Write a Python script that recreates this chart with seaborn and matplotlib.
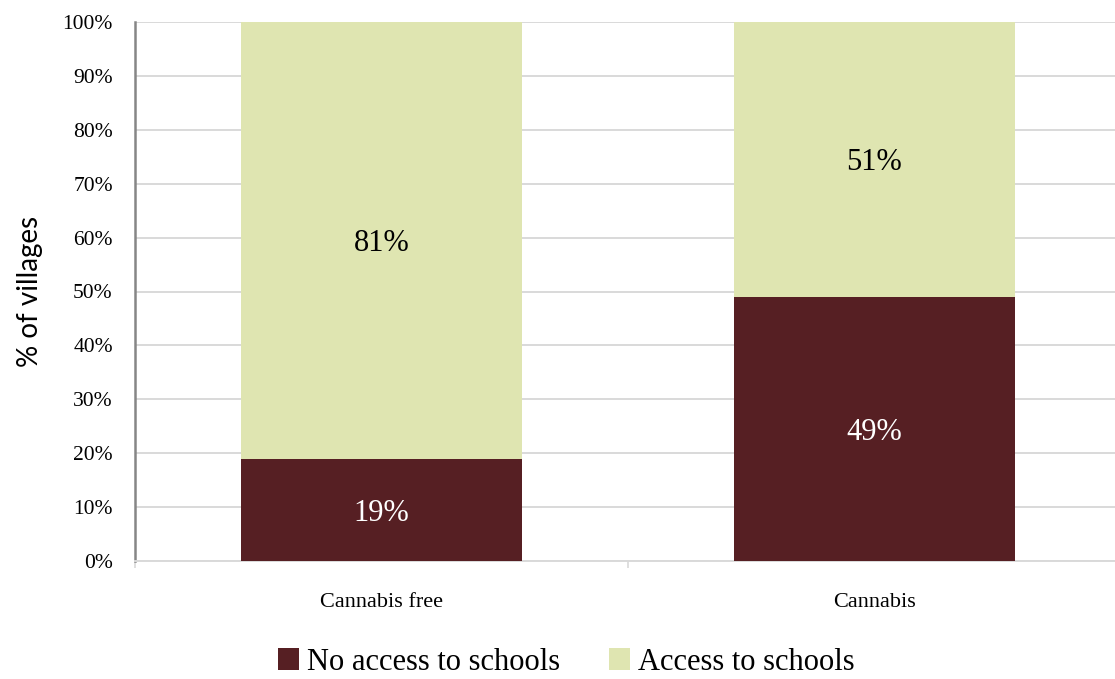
import matplotlib
matplotlib.use("Agg")
import matplotlib.pyplot as plt
from matplotlib.patches import Patch
from matplotlib.ticker import FixedLocator
import seaborn as sns
import pandas as pd

# Village groups and share of villages (%) by school access
categories = ["Cannabis free", "Cannabis"]
no_access = [19, 49]
access = [81, 51]
y_ticks = [0, 10, 20, 30, 40, 50, 60, 70, 80, 90, 100]
series_names = ["No access to schools", "Access to schools"]

dark = "#561F23"
light = "#DFE5B1"

sns.set_theme(style="white")
plt.rcParams["font.family"] = ["Liberation Serif", "DejaVu Serif"]
plt.rcParams["text.color"] = "black"

fig = plt.figure(figsize=(11.15, 6.79), dpi=100)
W, H = 1115, 679
ax = fig.add_axes([135 / W, 1 - 561 / H, (1121 - 135) / W, (561 - 22) / H])

df = pd.DataFrame({
    "group": categories,
    "no_access": no_access,
    "access": access,
})
df["total"] = df["no_access"] + df["access"]

# Stacked bars: full column in the light colour, lower segment on top in dark
sns.barplot(data=df, x="group", y="total", color=light, width=0.57,
            saturation=1, ax=ax, linewidth=0, zorder=2)
sns.barplot(data=df, x="group", y="no_access", color=dark, width=0.57,
            saturation=1, ax=ax, linewidth=0, zorder=3)

# Segment labels
for i, (n, a) in enumerate(zip(no_access, access)):
    ax.text(i, n / 2, f"{n}%", ha="center", va="center_baseline",
            color="white", fontsize=22, zorder=4)
    ax.text(i, n + a / 2, f"{a}%", ha="center", va="center_baseline",
            color="black", fontsize=22, zorder=4)

ax.set_xlim(-0.5, 1.5)
ax.set_ylim(0, 100)
ax.set_yticks(y_ticks)
ax.set_yticklabels([f"{t}%" for t in y_ticks])
ax.yaxis.grid(True, color="#D9D9D9", linewidth=1.4, zorder=0)
ax.set_axisbelow(True)

for s in ["top", "right"]:
    ax.spines[s].set_visible(False)
ax.spines["left"].set_color("#868686")
ax.spines["left"].set_linewidth(1.8)
ax.spines["bottom"].set_color("#D9D9D9")
ax.spines["bottom"].set_linewidth(1.4)

ax.tick_params(axis="y", length=0, pad=16, labelsize=15.5, labelcolor="black")
ax.tick_params(axis="x", which="major", length=0, pad=23, labelsize=16,
               labelcolor="black")
ax.xaxis.set_minor_locator(FixedLocator([-0.5, 0.5, 1.5]))
ax.tick_params(axis="x", which="minor", bottom=True, length=5, width=1.2,
               color="#D9D9D9", direction="out")

ax.set_xlabel("")
ax.set_ylabel("% of villages", fontfamily="Lato", fontsize=20, labelpad=14,
              color="black")

handles = [Patch(facecolor=dark, edgecolor="none"),
           Patch(facecolor=light, edgecolor="none")]
fig.legend(handles, series_names, loc="center", bbox_to_anchor=(566 / W, 1 - 662 / H),
           ncol=2, frameon=False, fontsize=22, handlelength=0.7, handleheight=0.7,
           handletextpad=0.25, columnspacing=1.6, borderpad=0.2,
           labelcolor="black")

fig.savefig("out.png", dpi=100)
